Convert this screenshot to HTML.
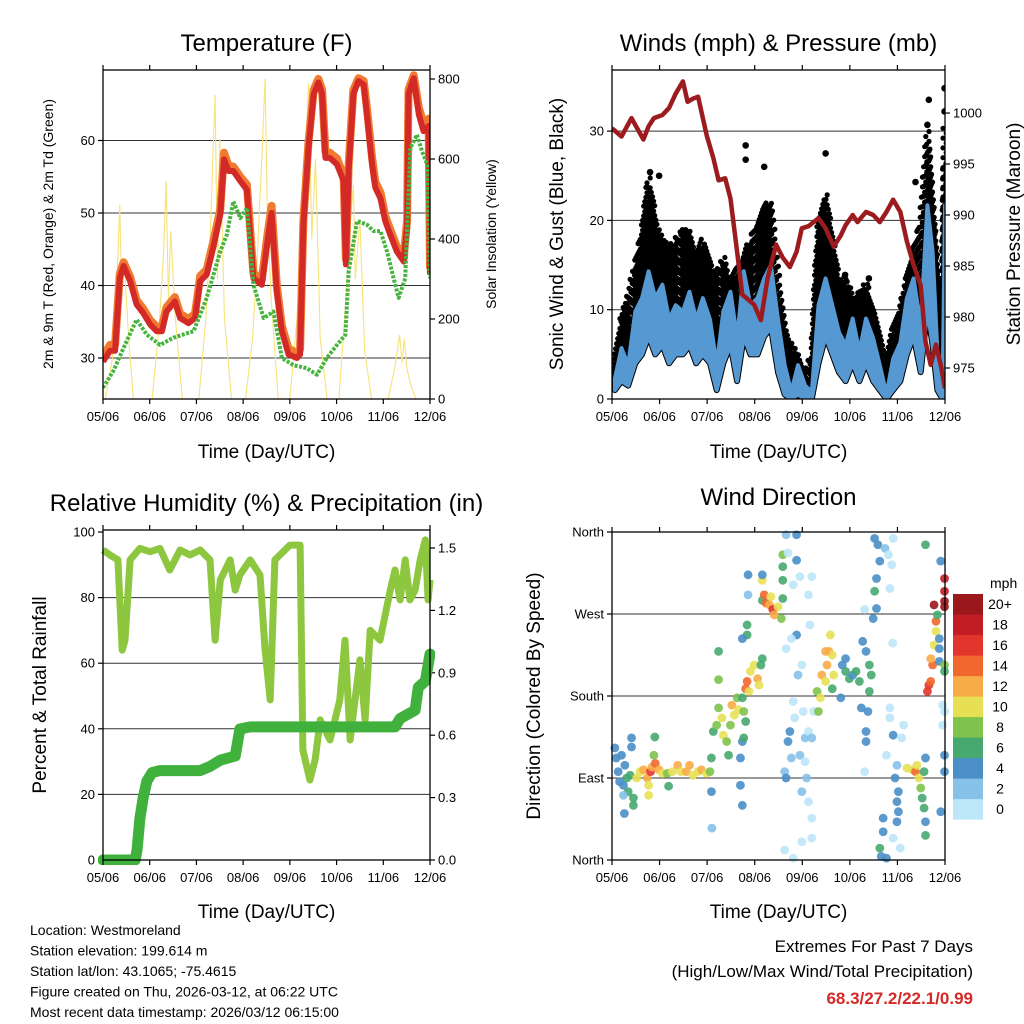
<!DOCTYPE html>
<html><head><meta charset="utf-8"><style>
body{margin:0;background:#fff}
svg{display:block}
text{font-family:"Liberation Sans",sans-serif;fill:#000}
</style></head><body>
<svg id="c" width="1024" height="1024" viewBox="0 0 1024 1024" xmlns="http://www.w3.org/2000/svg"></svg>
<script>
// ---------- DATA ----------
const dayLabels=["05/06","06/06","07/06","08/06","09/06","10/06","11/06","12/06"];
// Temperature
const tempT=[0,.15,.26,.36,.44,.58,.72,.86,1.01,1.15,1.26,1.36,1.54,1.65,1.83,1.97,2.08,2.22,2.36,2.51,2.59,2.69,2.79,2.94,3.08,3.22,3.4,3.51,3.61,3.72,3.83,3.97,4.15,4.22,4.29,4.4,4.51,4.61,4.69,4.76,4.86,5.01,5.15,5.2,5.26,5.36,5.47,5.58,5.65,5.76,5.83,5.94,6.04,6.15,6.29,6.44,6.51,6.54,6.65,6.76,6.86,6.97,7.0];
const temp2m=[29.5,31,31,41,42.7,40.6,37.4,36.2,34.6,33.7,33.7,36.4,37.8,35.5,34.8,35.5,40.6,41.5,45.2,49.8,57.4,55.8,55.8,54.4,53.2,41,40.1,45.6,50,39.2,33.7,30.5,30,30.5,48.4,59,66.4,68,66.4,57.6,57.6,56.7,54.4,42.9,56,66.4,68.2,67.7,63.6,56.7,53.5,52,48.9,47,44.7,43.3,48.4,66.4,68.6,63.6,61.3,62,41.5];
const temp9m=[30.2,31.8,31.8,41.6,43.2,41.2,38,36.8,35.2,34.3,34.3,37,38.4,36.1,35.4,36.1,41.3,42.2,46,50.5,58.3,56.5,56.4,55,53.9,41.7,40.8,46.5,51,40,34.4,31.3,30.7,31.2,49,59.8,67,68.5,67,58.5,58.3,57.5,55.2,43.6,56.8,67,68.6,68.2,64.5,57.6,54.3,52.8,49.6,47.7,45.4,44,49,67,69,64.6,62.3,63,42.3];
const dewT=[0,.22,.44,.72,.94,1.22,1.51,1.94,2.22,2.51,2.65,2.79,2.94,3.08,3.22,3.44,3.65,3.83,4.08,4.36,4.58,4.79,5.01,5.19,5.26,5.44,5.65,5.79,5.94,6.08,6.22,6.33,6.47,6.58,6.72,6.83,6.94,7.0];
const dew2m=[25.9,28.2,31.4,35.3,33.2,31.8,32.8,33.7,38.3,44.7,47,51.6,49.3,50.7,40.1,35.5,36.4,30,29,28.6,27.7,30,31.8,33.2,42,48.9,48.4,47.5,47.5,44.7,41,38.3,41,59,60.8,58.5,56.7,41];
const solarT=[0,.05,.2,.3,.36,.4,.45,.55,.65,1.05,1.2,1.3,1.35,1.4,1.45,1.55,1.7,2.05,2.2,2.3,2.36,2.4,2.45,2.5,2.6,2.75,3.05,3.2,3.3,3.4,3.47,3.52,3.6,3.75,4.0,4.15,4.3,4.4,4.47,4.55,4.65,4.8,5.05,5.2,5.3,5.36,5.4,5.5,5.6,5.75,6.1,6.25,6.35,6.4,6.45,6.5,6.6,6.7,7.0];
const solarW=[0,0,100,300,485,250,350,150,0,0,180,370,545,250,420,200,0,0,200,420,630,760,300,650,200,0,0,150,350,600,800,450,250,0,0,200,500,790,400,600,150,0,0,250,450,535,300,450,120,0,0,80,160,90,150,80,30,0,0];
const tempTicks=[30,40,50,60];
const solarTicks=[0,200,400,600,800];
// Winds
const windT=[.06,.2,.34,.49,.63,.77,.91,1.06,1.2,1.34,1.49,1.63,1.77,1.91,2.06,2.2,2.34,2.49,2.63,2.77,2.91,3.06,3.2,3.34,3.49,3.63,3.77,3.91,4.06,4.2,4.34,4.49,4.63,4.77,4.91,5.06,5.2,5.34,5.49,5.63,5.77,5.91,6.06,6.2,6.34,6.49,6.63,6.74,6.84,6.95,7.0];
const sustHigh=[2.3,5.7,3.8,9.8,11.3,14.3,11.3,12.8,8.9,10.5,9.8,12,8.9,11.3,8.9,3.8,9.8,12,6.8,14.3,10.5,11.3,13.5,15,8.9,3.8,0.8,3.8,1.5,0.8,10.5,13.5,10.5,7.5,6,9,5.3,9,6.8,3.8,0.5,4.5,6.3,11.3,13.5,8.2,21.7,16.5,5.3,0.8,21.7];
const sustLow=[1,2,1.5,4,5,7,5,6,4,5,5,6,4,5,4,1,4,6,2,7,5,5,7,8,3,0.5,0,0.5,0,0,4,7,5,3,2,4,2,4,2,1,0,1,2,5,7,3,10,6,1,0,8];
const gustHigh=[5,9,12,15,19,25,20,18,17,18,19,19,16,18,15,14,16,13,15,16,18,20,22,22,14,8,6,5,3,5,20,23,18,13,14,11,12,13,10,7,4,8,10,14,17,20,30,22,14,10,35];
const gustOutT=[0.8,0.99,2.81,2.81,3.2,4.49,6.38,6.66,6.99,6.99,6.63,4.9,5.4];
const gustOutV=[25.4,25,28.4,26.8,26,27.5,24.3,33.5,34.8,32.2,30.7,13.9,13.5];
const presT=[0,.2,.41,.66,.77,.88,1.06,1.2,1.34,1.49,1.59,1.7,1.81,1.99,2.13,2.24,2.38,2.49,2.63,2.74,2.84,2.99,3.13,3.27,3.45,3.59,3.74,3.88,3.99,4.13,4.34,4.49,4.66,4.81,4.91,5.06,5.16,5.34,5.49,5.63,5.77,5.91,6.06,6.2,6.34,6.49,6.59,6.7,6.81,6.91,7.0];
const presMb=[998.5,997.7,999.5,997.4,998.7,999.5,999.8,1000.5,1001.9,1003.1,1001.1,1001.4,1001.6,997.8,995.6,993.4,993.6,991.6,986.4,982.2,981.8,981.2,979.7,983.8,987.1,985.8,984.9,986.4,988.7,988.9,989.7,988.7,986.9,988,989,990,989.3,990.3,990,989.3,990.3,991.5,990.3,987.4,985.1,983.1,977.6,975.3,977.3,975.3,973];
const windTicks=[0,10,20,30];
const presTicks=[975,980,985,990,995,1000];
// RH & precip
const rhT=[0,.15,.32,.41,.47,.58,.79,1.01,1.22,1.43,1.65,1.86,2.08,2.29,2.4,2.51,2.72,2.83,2.93,3.15,3.36,3.47,3.58,3.68,4.0,4.22,4.28,4.43,4.54,4.65,4.86,5.07,5.18,5.29,5.5,5.61,5.72,5.93,6.15,6.25,6.36,6.47,6.57,6.68,6.79,6.9,6.96,7.0];
const rhPct=[94.5,93,91.5,64,67,91.5,95,94,95,88.4,94.5,93,94.5,91.5,67,85.4,91.5,82.3,86.9,91.5,86.9,64,48.8,91.5,96,96,33.5,24.4,30.5,42.7,36.6,48.8,67,36.6,61,42.7,70,67,82.3,88.4,79.3,91.5,79.3,82.3,91.5,97.6,79.3,85.4];
const precipT=[0,0.69,0.73,0.79,0.86,0.94,1.05,1.22,2.08,2.29,2.51,2.83,2.93,3.15,6.25,6.36,6.68,6.75,6.9,7.0];
const precipIn=[0,0,0.05,0.2,0.3,0.38,0.42,0.43,0.43,0.45,0.48,0.5,0.63,0.64,0.64,0.68,0.72,0.83,0.86,0.99];
const rhTicks=[0,20,40,60,80,100];
const precipTicks=["0.0","0.3","0.6","0.9","1.2","1.5"];
// Wind direction
const dirT=[0.06,0.09,0.13,0.16,0.2,0.24,0.27,0.31,0.34,0.38,0.24,0.41,0.41,0.45,0.45,0.26,
0.52,0.59,0.66,0.74,0.77,0.81,0.84,0.91,0.99,0.88,0.9,1.06,1.16,1.19,1.27,1.38,1.45,1.56,1.63,1.7,1.81,1.88,1.99,2.06,2.09,2.1,0.77,
2.09,2.13,2.2,2.24,2.31,2.34,2.41,2.45,2.49,2.52,2.57,2.63,2.66,2.74,2.77,2.81,2.74,2.7,2.7,2.74,2.24,2.24,2.77,
2.81,2.84,2.88,2.91,2.99,3.06,3.09,3.13,3.16,2.84,2.84,2.74,2.86,2.86,3.16,3.2,3.24,3.31,3.34,3.38,3.41,3.49,3.56,3.59,3.59,3.59,3.59,3.16,3.16,
3.66,3.7,3.7,3.74,3.77,3.81,3.84,3.88,3.91,3.95,3.99,4.02,4.06,4.09,4.13,4.16,4.2,4.24,4.2,4.13,3.99,4.2,3.81,3.63,3.88,3.88,3.95,3.81,4.2,4.13,3.77,3.66,3.99,4.06,3.63,3.66,
4.31,4.34,4.38,4.41,4.49,4.52,4.56,4.59,4.63,4.66,4.63,4.49,4.84,4.91,4.99,5.06,5.13,5.2,4.91,4.81,5.34,5.41,5.45,5.41,5.38,5.34,5.34,5.27,5.24,5.52,5.59,5.63,5.56,5.52,5.56,5.49,5.74,5.81,5.88,5.91,5.84,5.9,5.31,5.31,
5.84,5.84,5.91,5.77,5.99,5.95,6.02,5.99,6.02,5.99,5.7,5.7,5.63,5.66,5.77,5.91,6.06,6.09,6.13,6.2,6.31,6.38,6.41,6.45,6.49,6.52,6.56,6.59,6.59,6.59,6.56,
6.63,6.66,6.7,6.74,6.7,6.77,6.81,6.81,6.84,6.88,6.91,6.88,6.88,6.99,6.99,6.95,6.99,6.99,6.99,6.91,6.95,6.99,6.99,6.99,6.99,6.77,6.59];
const dirDeg=[123,112,97,86,115,82,104,90,75,93,71,134,124,68,60,51,
90,97,99,90,82,97,102,106,99,115,135,95,95,81,97,104,97,97,104,93,97,99,95,97,75,35,71,
112,141,148,167,156,137,130,115,148,170,159,178,165,178,163,152,130,112,82,60,229,198,134,
188,196,185,207,214,199,192,214,221,247,258,243,313,291,285,291,282,280,289,275,269,278,265,287,307,322,335,307,313,
357,337,130,141,112,174,156,247,203,115,214,163,134,90,141,258,134,163,46,64,20,24,2,11,357,329,311,302,311,291,243,232,75,108,97,90,
185,163,178,203,196,214,229,247,225,203,188,229,214,207,199,203,207,196,221,178,229,214,203,185,163,141,130,240,167,353,346,328,309,295,276,265,342,335,324,353,298,238,275,97,
167,156,137,115,104,90,75,64,53,42,46,31,13,4,2,24,13,134,148,101,99,97,104,90,79,68,57,112,42,27,97,
185,192,196,214,221,236,251,262,269,243,328,232,218,214,207,170,163,115,97,53,148,309,295,284,278,280,346];
const dirMph=[4,4,4,4,4,5,4,6,6,6,3,4,4,6,7,4,
10,11,12,13,11,17,13,15,12,8,6,10,8,7,10,12,11,12,12,10,10,12,10,8,4,3,10,
7,6,8,8,10,10,8,7,8,12,10,8,11,7,8,6,4,4,4,4,6,8,6,
14,15,10,10,10,12,10,7,7,6,7,4,4,3,6,15,14,12,10,16,13,10,8,6,6,6,8,10,4,
2,1,4,4,2,1,1,4,3,2,1,1,3,2,1,1,2,1,1,1,1,1,1,1,4,4,1,1,1,1,1,1,2,1,3,4,
9,8,11,12,11,12,13,11,10,10,6,13,4,6,6,5,6,6,4,4,4,6,6,6,4,4,4,4,4,4,4,4,4,6,4,4,2,1,1,1,1,1,1,1,
1,1,4,1,3,4,4,4,4,4,4,4,6,4,4,1,1,1,1,10,10,15,11,10,8,6,6,4,4,6,7,
16,17,14,15,12,10,10,14,7,4,4,4,4,8,7,1,1,4,4,4,1,18,18,20,20,20,6];
const speedColors=["#bde6f8","#86c1e8","#4a8fc8","#47a870","#7ec34c","#e7e055","#f8ac47","#f0682e","#e2352b","#c21d25","#9a171c"];
const speedLabels=["0","2","4","6","8","10","12","14","16","18","20+"];
const dirTicks=[0,90,180,270,360];
const dirLabels=["North","East","South","West","North"];

// ---------- DRAW ----------
const svg=document.getElementById('c');
const NS="http://www.w3.org/2000/svg";
function el(tag,attrs,parent){const e=document.createElementNS(NS,tag);for(const k in attrs)e.setAttribute(k,attrs[k]);(parent||svg).appendChild(e);return e;}
function txt(s,x,y,size,anchor,parent,extra){const t=el('text',Object.assign({x:x,y:y,'font-size':size,'text-anchor':anchor||'middle'},extra||{}),parent);t.textContent=s;return t;}
function pts(xs,ys){return xs.map((v,i)=>xs[i].toFixed(1)+','+ys[i].toFixed(1)).join(' ');}

function panel(name,x0,x1,y0,y1){
  const g=el('g',{});
  
  
  const xs=t=>x0+t*(x1-x0)/7;
  return {g,xs,x0,x1,y0,y1};
}
function frame(P,title,titleY,xtitleY){
  const {g,xs,x0,x1,y0,y1}=P;
  el('rect',{x:x0,y:y0,width:x1-x0,height:y1-y0,fill:'none',stroke:'#000','stroke-width':1.3},g);
  const xa=el('g',{},g);
  
  
  dayLabels.forEach((d,i)=>{const x=xs(i);
    el('line',{x1:x,x2:x,y1:y1,y2:y1+5,stroke:'#000','stroke-width':1.2},xa);
    el('line',{x1:x,x2:x,y1:y0,y2:y0-5,stroke:'#000','stroke-width':1.2},xa);
    const t=txt(d,x,y1+22,13,'middle',xa);
    
    
  });
  const xt=txt('Time (Day/UTC)',(x0+x1)/2,xtitleY,19,'middle',g);
  
  
  const tt=txt(title,(x0+x1)/2,titleY,24,'middle',g);
  
  
}
function yAxis(P,vals,labels,yf,side,grid,size){
  const {g,x0,x1}=P;
  const ax=el('g',{},g);
  
  
  vals.forEach((v,i)=>{const y=yf(v);
    if(grid && y>P.y0+2 && y<P.y1-2) el('line',{x1:x0,x2:x1,y1:y,y2:y,stroke:'#333','stroke-width':1},ax);
    if(side==='left'){el('line',{x1:x0-5,x2:x0,y1:y,y2:y,stroke:'#000','stroke-width':1.2},ax);
      txt(labels[i],x0-8,y+4.5,size||13,'end',ax);}
    else{el('line',{x1:x1,x2:x1+5,y1:y,y2:y,stroke:'#000','stroke-width':1.2},ax);
      txt(labels[i],x1+8,y+4.5,size||13,'start',ax);}
  });
}
function vtitle(s,x,y,size,parent,name){const t=txt(s,0,0,size,'middle',parent,{transform:`translate(${x},${y}) rotate(-90)`});
  
  }

// ---- Temperature ----
(function(){
  const P=panel('temperature-panel',103,430,70,399);
  const tY=v=>358-(v-30)*7.25, sY=v=>399-v*0.4;
  yAxis(P,tempTicks,tempTicks.map(String),tY,'left',true);
  yAxis(P,solarTicks,solarTicks.map(String),sY,'right',false);
  const cp=el('clipPath',{id:'cp1'});el('rect',{x:103,y:70,width:327,height:329},cp);
  const s=el('g',{'clip-path':'url(#cp1)'},P.g);
  const sl=el('polyline',{points:pts(solarT.map(P.xs),solarW.map(sY)),fill:'none',stroke:'#f8e27a','stroke-width':1.1},s);
  
  
  const o=el('polyline',{points:pts(tempT.map(P.xs),temp9m.map(tY)),fill:'none',stroke:'#f07b30','stroke-width':8,'stroke-linejoin':'round'},s);
  
  
  const r=el('polyline',{points:pts(tempT.map(P.xs),temp2m.map(tY)),fill:'none',stroke:'#d42a27','stroke-width':6,'stroke-linejoin':'round'},s);
  
  
  const d=el('polyline',{points:pts(dewT.map(P.xs),dew2m.map(tY)),fill:'none',stroke:'#47b43f','stroke-width':4,'stroke-dasharray':'3 1.5','stroke-linejoin':'round'},s);
  
  
  frame(P,'Temperature (F)',51,458);
  vtitle('2m & 9m T (Red, Orange) & 2m Td (Green)',53,234,14,P.g,'left-y-axis-title');
  vtitle('Solar Insolation (Yellow)',496,234,14,P.g,'right-y-axis-title');
})();

// ---- Winds ----
(function(){
  const P=panel('winds-panel',612,945,70,399);
  const wY=v=>399-v*8.93, pY=v=>113+(1000-v)*10.2;
  yAxis(P,windTicks,windTicks.map(String),wY,'left',true);
  yAxis(P,presTicks,presTicks.map(String),pY,'right',false);
  const cp=el('clipPath',{id:'cp2'});el('rect',{x:612,y:70,width:333,height:329},cp);
  const s=el('g',{'clip-path':'url(#cp2)'},P.g);
  const X=windT.map(P.xs);
  const gb=el('g',{},s);
  
  
  // lower dense core between sustained low and sustained high
  el('polygon',{points:pts(X.concat(X.slice().reverse()),sustHigh.map(wY).concat(sustLow.map(wY).reverse())),fill:'#000',stroke:'#000','stroke-width':6,'stroke-linejoin':'round'},gb);
  // gust dots from sustained high up to gust high
  for(let i=0;i<X.length-1;i++){
    for(let k=0;k<6;k++){
      const f=k/6;
      const x=X[i]+(X[i+1]-X[i])*f;
      const lo=sustHigh[i]+(sustHigh[i+1]-sustHigh[i])*f;
      const hi=gustHigh[i]+(gustHigh[i+1]-gustHigh[i])*f;
      let n=0;
      for(let v=lo;v<=hi;v+=0.55){
        const c=el('circle',{cx:(x+((n%2)?1.6:-1.6)).toFixed(1),cy:wY(v).toFixed(1),r:2.6,fill:'#000'},gb);
        n++;
      }
    }
  }
  gustOutT.forEach((t,i)=>{const c=el('circle',{cx:P.xs(t),cy:wY(gustOutV[i]),r:3.3,fill:'#000'},s);
    
    });
  const sus=el('polygon',{points:pts(X.concat(X.slice().reverse()),sustHigh.map(wY).concat(sustLow.map(wY).reverse())),fill:'#5598d2',stroke:'#5598d2','stroke-width':4,'stroke-linejoin':'round'},s);
  
  
  const p=el('polyline',{points:pts(presT.map(P.xs),presMb.map(pY)),fill:'none',stroke:'#9b1b1e','stroke-width':4.5,'stroke-linejoin':'round'},s);
  
  
  frame(P,'Winds (mph) & Pressure (mb)',51,458);
  vtitle('Sonic Wind & Gust (Blue, Black)',563,234,19,P.g,'left-y-axis-title');
  vtitle('Station Pressure (Maroon)',1020,234,19,P.g,'right-y-axis-title');
})();

// ---- RH ----
(function(){
  const P=panel('humidity-panel',103,430,530,860);
  const rY=v=>860-v*3.28, pY=v=>860-v*208;
  yAxis(P,rhTicks,rhTicks.map(String),rY,'left',true);
  yAxis(P,precipTicks.map(Number),precipTicks,pY,'right',false);
  const cp=el('clipPath',{id:'cp3'});el('rect',{x:98,y:530,width:337,height:335},cp);
  const s=el('g',{'clip-path':'url(#cp3)'},P.g);
  const rh=el('polyline',{points:pts(rhT.map(P.xs),rhPct.map(rY)),fill:'none',stroke:'#8dc63f','stroke-width':7,'stroke-linejoin':'round'},s);
  
  
  const pr=el('polyline',{points:pts(precipT.map(P.xs),precipIn.map(pY)),fill:'none',stroke:'#41b13d','stroke-width':11,'stroke-linejoin':'round','stroke-linecap':'round'},s);
  
  
  frame(P,'Relative Humidity (%) & Precipitation (in)',511,918);
  vtitle('Percent & Total Rainfall',46,695,19,P.g,'left-y-axis-title');
})();

// ---- Wind direction ----
(function(){
  const P=panel('wind-direction-panel',612,945,532,860);
  const dY=v=>860-v*328/360;
  yAxis(P,dirTicks,dirLabels,dY,'left',true,13);
  const s=el('g',{},P.g);
  dirT.forEach((t,i)=>{const b=Math.min(10,Math.floor(dirMph[i]/2));
    const c=el('circle',{cx:P.xs(Math.min(t,6.99)),cy:dY(dirDeg[i]),r:4.4,fill:speedColors[b],'fill-opacity':0.9},s);
    
    });
  frame(P,'Wind Direction',505,918);
  vtitle('Direction (Colored By Speed)',540,696,19,P.g,'left-y-axis-title');
  const lg=el('g',{},P.g);
  
  
  txt('mph',990,588,14,'start',lg);
  for(let i=0;i<11;i++){const y=594+(10-i)*20.5;
    const r=el('rect',{x:953,y:y,width:30,height:20.6,fill:speedColors[i]},lg);
    
    
    txt(speedLabels[i],1000,y+15,14,'middle',lg);}
})();

// ---- Footer ----
const info=["Location: Westmoreland","Station elevation: 199.614 m","Station lat/lon: 43.1065; -75.4615","Figure created on Thu, 2026-03-12, at 06:22 UTC","Most recent data timestamp: 2026/03/12 06:15:00"];
const ft=el('g',{});


info.forEach((s,i)=>txt(s,30,935+i*20.5,14,'start',ft));
const ex=el('g',{});


txt('Extremes For Past 7 Days',973,952,17,'end',ex);
txt('(High/Low/Max Wind/Total Precipitation)',973,977,17,'end',ex);
txt('68.3/27.2/22.1/0.99',973,1004,17,'end',ex,{'font-weight':'bold',style:'fill:#d42a27'});
</script>
</body></html>
